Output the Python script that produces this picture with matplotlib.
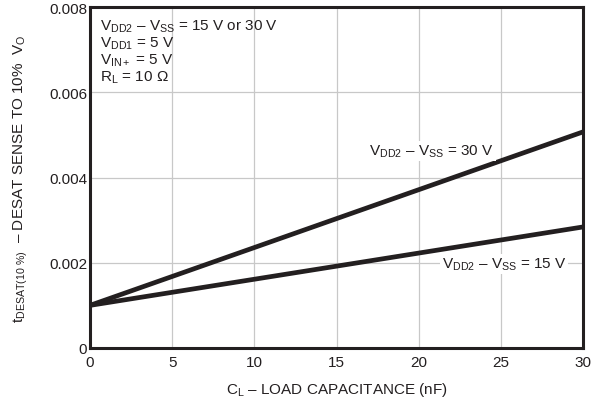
import matplotlib
matplotlib.use("Agg")
import matplotlib.pyplot as plt

plt.rcParams["font.family"] = ["Liberation Sans", "DejaVu Sans"]
plt.rcParams["mathtext.fontset"] = "custom"
plt.rcParams["mathtext.rm"] = "Liberation Sans"
plt.rcParams["mathtext.it"] = "Liberation Sans"
plt.rcParams["mathtext.default"] = "regular"

# Data
load_cap = [0, 30]
desat_30v = [0.00100, 0.00507]
desat_15v = [0.00100, 0.00284]
x_ticks = [0, 5, 10, 15, 20, 25, 30]
y_ticks = [0, 0.002, 0.004, 0.006, 0.008]
y_tick_labels = ["0", "0.002", "0.004", "0.006", "0.008"]

fig = plt.figure(figsize=(5.96, 4.02), dpi=100)
ax = fig.add_axes([90 / 596, 53 / 402, 493 / 596, 341 / 402])

ax.plot(load_cap, desat_30v, color="#231f20", linewidth=3.4, solid_capstyle="butt", zorder=3)
ax.plot(load_cap, desat_15v, color="#231f20", linewidth=3.4, solid_capstyle="butt", zorder=3)

ax.set_xlim(0, 30)
ax.set_ylim(0, 0.008)
ax.set_xticks(x_ticks)
ax.set_yticks(y_ticks)
ax.set_yticklabels(y_tick_labels)
ax.tick_params(length=0, labelsize=11, colors="#231f20")
ax.tick_params(axis="x", pad=5)
ax.tick_params(axis="y", pad=2)
ax.grid(color="#c8c8c8", linewidth=0.9)
ax.set_axisbelow(True)
for s in ax.spines.values():
    s.set_linewidth(2.2)
    s.set_color("#231f20")

ax.set_xlabel(r"$C_L$ – LOAD CAPACITANCE (nF)", fontsize=11, color="#231f20", labelpad=8)
ax.set_ylabel(r"$t_{DESAT(10\ \%)}$  – DESAT SENSE TO 10%  $V_O$",
              fontsize=11, color="#231f20", labelpad=14)

ax.text(0.02, 0.97,
        "$V_{DD2}$ – $V_{SS}$ = 15 V or 30 V\n$V_{DD1}$ = 5 V\n$V_{IN+}$ = 5 V\n$R_L$ = 10 Ω",
        transform=ax.transAxes, fontsize=11, va="top", ha="left",
        color="#231f20", linespacing=1.05)

box = dict(facecolor="white", edgecolor="none", pad=1.0)
ax.text(20.8, 0.00462, "$V_{DD2}$ – $V_{SS}$ = 30 V", fontsize=11, ha="center",
        va="center", color="#231f20", bbox=box, zorder=4)
ax.text(25.2, 0.00197, "$V_{DD2}$ – $V_{SS}$ = 15 V", fontsize=11, ha="center",
        va="center", color="#231f20", bbox=box, zorder=4)

fig.savefig("out.png", dpi=100)
